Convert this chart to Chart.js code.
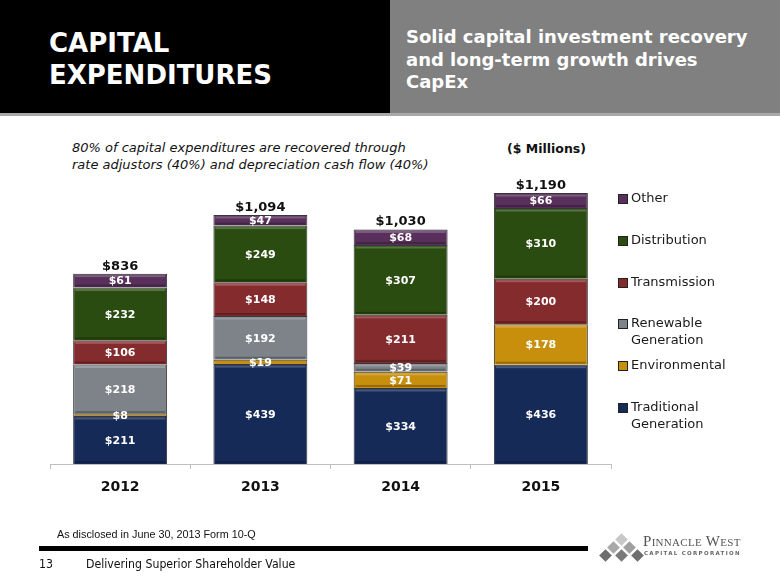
<!DOCTYPE html>
<html><head><meta charset="utf-8">
<script src="https://cdn.jsdelivr.net/npm/chart.js@4"></script>
<style>
html,body{margin:0;padding:0;width:780px;height:585px;overflow:hidden;background:#fff;font-family:"DejaVu Sans",sans-serif;}
#wrap{position:relative;width:780px;height:585px;}
#c{position:absolute;left:0;top:0;}
.abs{position:absolute;white-space:nowrap;}
.leg{position:absolute;left:618px;font:13px "DejaVu Sans";color:#1a1a1a;line-height:16.5px;white-space:pre-line;}
.leg .sw{position:absolute;left:0;top:4px;width:8px;height:8px;border:1px solid #222;}
.leg .tx{position:absolute;left:13px;top:0;white-space:pre;}
.dia{position:absolute;width:9px;height:9px;transform:rotate(45deg);}
</style></head><body><div id="wrap">
<div class="abs" style="left:0;top:0;width:390px;height:113px;background:#000"></div>
<div class="abs" style="left:390px;top:0;width:390px;height:113px;background:#808080"></div>
<div class="abs" style="left:0;top:113px;width:780px;height:3px;background:#a8a8a8"></div>
<div class="abs" style="left:49px;top:27px;color:#fff;font:bold 26px 'DejaVu Sans';line-height:32px">CAPITAL<br>EXPENDITURES</div>
<div class="abs" style="left:406px;top:26px;color:#fff;font:bold 18px 'DejaVu Sans';line-height:22.5px">Solid capital investment recovery<br>and long-term growth drives<br>CapEx</div>
<div class="abs" style="left:72px;top:139px;color:#111;font:italic 13px 'DejaVu Sans';line-height:17px">80% of capital expenditures are recovered through<br>rate adjustors (40%) and depreciation cash flow (40%)</div>
<div class="abs" style="left:507px;top:141px;color:#111;font:bold 12.5px 'DejaVu Sans'">($ Millions)</div>
<canvas id="c" width="780" height="585"></canvas>
<div id="legend"></div>
<div class="abs" style="left:57px;top:528px;color:#111;font:10.8px 'Liberation Sans'">As disclosed in June 30, 2013 Form 10-Q</div>
<div class="abs" style="left:39px;top:546px;width:549px;height:5px;background:#000"></div>
<div class="abs" style="left:39px;top:557px;color:#111;font:12.2px 'DejaVu Sans Condensed','DejaVu Sans'">13</div>
<div class="abs" style="left:86px;top:557px;color:#111;font:12.2px 'DejaVu Sans Condensed','DejaVu Sans'">Delivering Superior Shareholder Value</div>
<div id="logo">
<div class="dia" style="left:617px;top:535px;background:#c8c8c8"></div>
<div class="dia" style="left:609px;top:543px;background:#a8a8a8"></div>
<div class="dia" style="left:625px;top:543px;background:#a0a0a0"></div>
<div class="dia" style="left:601px;top:551px;background:#6e6e6e"></div>
<div class="dia" style="left:617px;top:551px;background:#7a7a7a"></div>
<div class="dia" style="left:633px;top:551px;background:#6e6e6e"></div>
</div>
<div class="abs" style="left:643px;top:533px;color:#555;font:15px 'Liberation Serif';font-variant:small-caps;letter-spacing:0.3px">Pinnacle West</div>
<div class="abs" style="left:644px;top:550px;color:#666;font:bold 5.5px 'DejaVu Sans';letter-spacing:1.3px">CAPITAL CORPORATION</div>
</div>
<script>
const categories = ['2012', '2013', '2014', '2015'];
const traditionalGeneration = [211, 439, 334, 436];
const environmental = [8, 19, 71, 178];
const renewableGeneration = [218, 192, 39, 0];
const transmission = [106, 148, 211, 200];
const distribution = [232, 249, 307, 310];
const other = [61, 47, 68, 66];
const seriesNames = ['Traditional\nGeneration', 'Environmental', 'Renewable\nGeneration', 'Transmission', 'Distribution', 'Other'];
const seriesColors = ['#162a58', '#c88f0c', '#7d8389', '#842b2e', '#2a4c10', '#58305b'];

const seriesValues = [traditionalGeneration, environmental, renewableGeneration, transmission, distribution, other];
const datasets = seriesValues.map((vals, i) => ({
  label: seriesNames[i],
  data: vals,
  backgroundColor: seriesColors[i],
  borderColor: 'rgba(20,20,20,0.85)',
  borderWidth: 1,
  categoryPercentage: 1,
  barPercentage: 0.67
}));

function money(v) { return '$' + v.toLocaleString('en-US'); }

const labelPlugin = {
  id: 'labels',
  afterDatasetsDraw(chart) {
    const ctx = chart.ctx;
    ctx.save();
    chart.data.datasets.forEach((ds, di) => {
      const meta = chart.getDatasetMeta(di);
      meta.data.forEach((el, i) => {
        const v = ds.data[i];
        if (!v) return;
        const top = Math.min(el.y, el.base), bot = Math.max(el.y, el.base);
        const left = el.x - el.width / 2, w = el.width;
        const h = bot - top;
        if (h > 6) {
          ctx.fillStyle = 'rgba(255,255,255,0.22)';
          ctx.fillRect(left + 2, top + 1.5, w - 4, 2);
          ctx.fillStyle = 'rgba(0,0,0,0.25)';
          ctx.fillRect(left + 2, bot - 3, w - 4, 2);
        }
      });
    });
    ctx.font = 'bold 11px "DejaVu Sans"';
    ctx.textAlign = 'center';
    ctx.textBaseline = 'middle';
    ctx.fillStyle = '#ffffff';
    chart.data.datasets.forEach((ds, di) => {
      const meta = chart.getDatasetMeta(di);
      meta.data.forEach((el, i) => {
        const v = ds.data[i];
        if (!v) return;
        ctx.fillText(money(v), el.x, (el.y + el.base) / 2 + 1);
      });
    });
    ctx.font = 'bold 13px "DejaVu Sans"';
    ctx.fillStyle = '#111';
    ctx.textBaseline = 'alphabetic';
    const last = chart.data.datasets.length - 1;
    const yScale = chart.scales.y;
    categories.forEach((c, i) => {
      const total = seriesValues.reduce((s, arr) => s + arr[i], 0);
      const el = chart.getDatasetMeta(last).data[i];
      ctx.fillText(money(total), el.x, yScale.getPixelForValue(total) - 4);
    });
    ctx.restore();
  }
};

const chart = new Chart(document.getElementById('c'), {
  type: 'bar',
  data: { labels: categories, datasets },
  options: {
    responsive: false,
    animation: false,
    layout: { padding: { left: 50, right: 169, top: 168, bottom: 81 } },
    plugins: { legend: { display: false }, tooltip: { enabled: false } },
    scales: {
      x: {
        stacked: true,
        grid: { drawOnChartArea: false, drawTicks: true, tickLength: 5, color: '#bfbfbf', offset: true },
        border: { color: '#bfbfbf', width: 1 },
        ticks: { color: '#111', font: { family: 'DejaVu Sans', weight: 'bold', size: 14 }, padding: 10 },
        afterFit(scale) { scale.height = 40; }
      },
      y: { stacked: true, display: false, min: 0, max: 1300 }
    }
  },
  plugins: [labelPlugin]
});

const legend = document.getElementById('legend');
const n = chart.data.datasets.length;
for (let k = 0; k < n; k++) {
  const ds = chart.data.datasets[n - 1 - k];
  const item = document.createElement('div');
  item.className = 'leg';
  item.style.top = (190 + k * 41.8) + 'px';
  item.innerHTML = '<div class="sw" style="background:' + ds.backgroundColor + '"></div><div class="tx"></div>';
  item.querySelector('.tx').textContent = ds.label;
  legend.appendChild(item);
}
</script>
</body></html>
